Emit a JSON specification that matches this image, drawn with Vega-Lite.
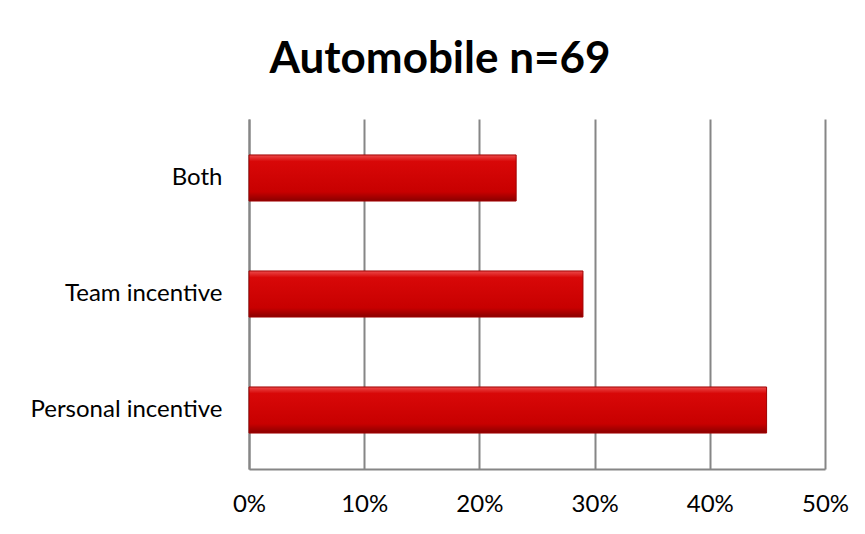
{
  "$schema": "https://vega.github.io/schema/vega-lite/v6.json",
  "autosize": "none",
  "padding": {"left": 249, "top": 119, "right": 40, "bottom": 65},
  "width": 576,
  "height": 350,
  "background": "white",
  "title": {
    "text": "Automobile n=69",
    "font": "Lato",
    "fontSize": 44,
    "fontWeight": "bold",
    "color": "black",
    "anchor": "middle",
    "frame": "group",
    "dx": -97,
    "offset": 37
  },
  "data": {
    "values": [
      {"category": "Both", "share": 0.2319},
      {"category": "Team incentive", "share": 0.2899},
      {"category": "Personal incentive", "share": 0.4493}
    ]
  },
  "mark": {
    "type": "bar",
    "color": {
      "gradient": "linear",
      "x1": 0, "y1": 0, "x2": 0, "y2": 1,
      "stops": [
        {"offset": 0, "color": "#EC4A4A"},
        {"offset": 0.14, "color": "#D80808"},
        {"offset": 0.8, "color": "#C80000"},
        {"offset": 1, "color": "#8A0000"}
      ]
    },
    "stroke": "#A00000",
    "strokeWidth": 1
  },
  "encoding": {
    "y": {
      "field": "category",
      "type": "nominal",
      "sort": ["Both", "Team incentive", "Personal incentive"],
      "scale": {"paddingInner": 0.603, "paddingOuter": 0.31},
      "axis": {
        "title": null,
        "ticks": false,
        "labelPadding": 27,
        "labelLimit": 300,
        "labelFont": "Lato",
        "labelFontSize": 24,
        "labelColor": "black",
        "domainColor": "#868686",
        "domainWidth": 2
      }
    },
    "x": {
      "field": "share",
      "type": "quantitative",
      "scale": {"domain": [0, 0.5], "nice": false},
      "axis": {
        "title": null,
        "format": ".0%",
        "values": [0, 0.1, 0.2, 0.3, 0.4, 0.5],
        "ticks": false,
        "labelFlush": false,
        "labelAlign": "center",
        "labelPadding": 23,
        "labelFont": "Lato",
        "labelFontSize": 24,
        "labelColor": "black",
        "domainColor": "#868686",
        "domainWidth": 2,
        "grid": true,
        "gridColor": "#868686",
        "gridWidth": 2
      }
    }
  },
  "config": {
    "view": {"stroke": null}
  }
}
